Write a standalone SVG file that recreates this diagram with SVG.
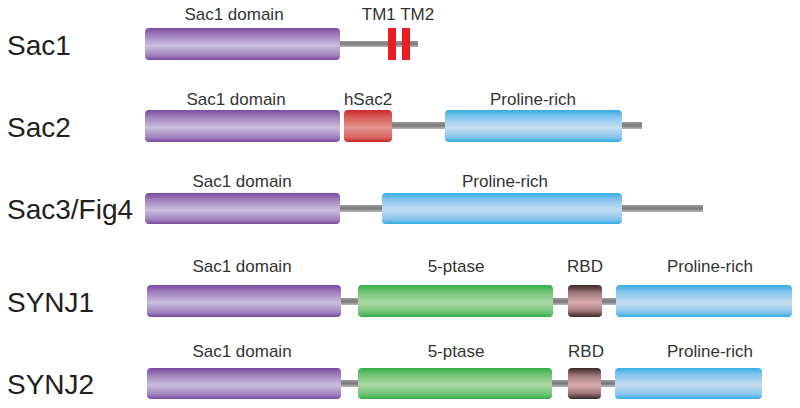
<svg xmlns="http://www.w3.org/2000/svg" width="800" height="408" viewBox="0 0 800 408">
<defs>
<linearGradient id="gPurple" x1="0" y1="0" x2="0" y2="1">
<stop offset="0" stop-color="#7a4a9f"/><stop offset="0.2" stop-color="#9c7bb9"/><stop offset="0.55" stop-color="#cbbddd"/><stop offset="0.85" stop-color="#a184bf"/><stop offset="1" stop-color="#7a4a9f"/>
</linearGradient>
<linearGradient id="gBlue" x1="0" y1="0" x2="0" y2="1">
<stop offset="0" stop-color="#33ace4"/><stop offset="0.2" stop-color="#7fc3ec"/><stop offset="0.55" stop-color="#c6dcf1"/><stop offset="0.85" stop-color="#86c5ec"/><stop offset="1" stop-color="#33ace4"/>
</linearGradient>
<linearGradient id="gGreen" x1="0" y1="0" x2="0" y2="1">
<stop offset="0" stop-color="#35ad48"/><stop offset="0.2" stop-color="#6cc070"/><stop offset="0.55" stop-color="#a9d9a4"/><stop offset="0.85" stop-color="#6fc274"/><stop offset="1" stop-color="#35ad48"/>
</linearGradient>
<linearGradient id="gRed" x1="0" y1="0" x2="0" y2="1">
<stop offset="0" stop-color="#cc2a2e"/><stop offset="0.25" stop-color="#d9605f"/><stop offset="0.55" stop-color="#e4938e"/><stop offset="0.85" stop-color="#d76562"/><stop offset="1" stop-color="#c42428"/>
</linearGradient>
<linearGradient id="gRbd" x1="0" y1="0" x2="0" y2="1">
<stop offset="0" stop-color="#3a2628"/><stop offset="0.25" stop-color="#a07a7c"/><stop offset="0.55" stop-color="#dcaaab"/><stop offset="0.8" stop-color="#a57c7e"/><stop offset="1" stop-color="#3a2628"/>
</linearGradient>
<linearGradient id="gLine" x1="0" y1="0" x2="0" y2="1">
<stop offset="0" stop-color="#9a9a9a"/><stop offset="0.5" stop-color="#7a7a7a"/><stop offset="1" stop-color="#b8b8b8"/>
</linearGradient>
</defs>
<style>
.name{font-family:"Liberation Sans",Arial,sans-serif;font-size:28px;fill:#231f20}
.lbl{font-family:"Liberation Sans",Arial,sans-serif;font-size:17px;fill:#333}
.ln{fill:url(#gLine)}
.pur{fill:url(#gPurple)}
.blu{fill:url(#gBlue)}
.grn{fill:url(#gGreen)}
.red{fill:url(#gRed)}
.rbd{fill:url(#gRbd)}
.tm{fill:#ec1c24}
</style>
<rect width="800" height="408" fill="#fff"/>
<g id="connectors">
<rect class="ln" x="335" y="41" width="83" height="6"/>
<rect class="ln" x="388" y="122" width="62" height="7"/>
<rect class="ln" x="615" y="122" width="27" height="7"/>
<rect class="ln" x="335" y="205" width="52" height="7"/>
<rect class="ln" x="615" y="205" width="88" height="7"/>
<rect class="ln" x="336" y="298" width="290" height="7"/>
<rect class="ln" x="336" y="380" width="290" height="7"/>
</g>
<g id="sac1">
<text class="name" x="7" y="55">Sac1</text>
<text class="lbl" x="234" y="20" text-anchor="middle">Sac1 domain</text>
<text class="lbl" x="398" y="20" text-anchor="middle">TM1 TM2</text>
<rect class="pur" x="145" y="28" width="195" height="32" rx="4"/>
<rect class="tm" x="388" y="28" width="8" height="32"/>
<rect class="tm" x="402" y="28" width="8" height="32"/>
</g>
<g id="sac2">
<text class="name" x="7" y="137">Sac2</text>
<text class="lbl" x="236" y="105" text-anchor="middle">Sac1 domain</text>
<text class="lbl" x="368" y="105" text-anchor="middle">hSac2</text>
<text class="lbl" x="533" y="105" text-anchor="middle">Proline-rich</text>
<rect class="pur" x="145" y="110" width="195" height="32" rx="4"/>
<rect class="red" x="344" y="110" width="48" height="32" rx="4"/>
<rect class="blu" x="445" y="110" width="177" height="32" rx="4"/>
</g>
<g id="sac3">
<text class="name" x="7" y="219">Sac3/Fig4</text>
<text class="lbl" x="242" y="187" text-anchor="middle">Sac1 domain</text>
<text class="lbl" x="505" y="187" text-anchor="middle">Proline-rich</text>
<rect class="pur" x="145" y="193" width="195" height="31" rx="4"/>
<rect class="blu" x="382" y="193" width="240" height="31" rx="4"/>
</g>
<g id="synj1">
<text class="name" x="7" y="312">SYNJ1</text>
<text class="lbl" x="242" y="272" text-anchor="middle">Sac1 domain</text>
<text class="lbl" x="456" y="272" text-anchor="middle">5-ptase</text>
<text class="lbl" x="585" y="272" text-anchor="middle">RBD</text>
<text class="lbl" x="710" y="272" text-anchor="middle">Proline-rich</text>
<rect class="pur" x="147" y="285" width="194" height="32" rx="4"/>
<rect class="grn" x="358" y="285" width="195" height="32" rx="4"/>
<rect class="rbd" x="568" y="285" width="34" height="32" rx="4"/>
<rect class="blu" x="616" y="285" width="176" height="32" rx="4"/>
</g>
<g id="synj2">
<text class="name" x="7" y="394">SYNJ2</text>
<text class="lbl" x="242" y="357" text-anchor="middle">Sac1 domain</text>
<text class="lbl" x="456" y="357" text-anchor="middle">5-ptase</text>
<text class="lbl" x="586" y="357" text-anchor="middle">RBD</text>
<text class="lbl" x="710" y="357" text-anchor="middle">Proline-rich</text>
<rect class="pur" x="147" y="368" width="194" height="31" rx="4"/>
<rect class="grn" x="358" y="368" width="194" height="31" rx="4"/>
<rect class="rbd" x="568" y="368" width="33" height="31" rx="4"/>
<rect class="blu" x="615" y="368" width="147" height="31" rx="4"/>
</g>
</svg>
